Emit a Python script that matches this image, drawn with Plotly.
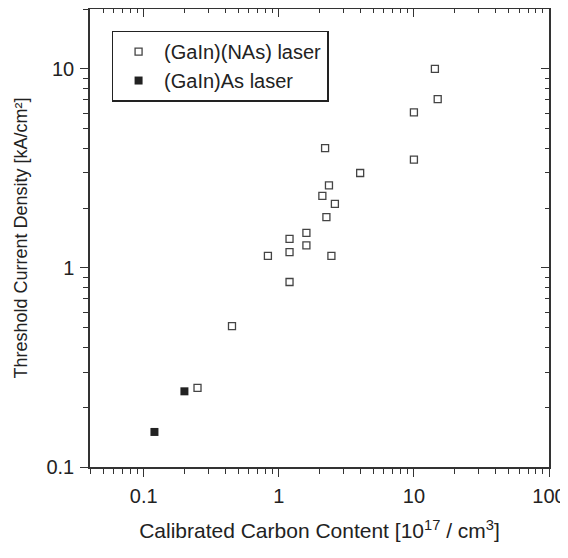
import plotly.graph_objects as go
import math

# (GaIn)(NAs) laser — open squares
gainnas_x = [14.3, 15.0, 10.0, 2.2, 10.0, 4.0, 2.35, 2.1, 2.6, 2.25, 1.6, 1.2, 1.6, 1.2, 0.83, 2.45, 1.2, 0.45, 0.25]
gainnas_y = [10.0, 7.05, 6.05, 4.0, 3.5, 3.0, 2.6, 2.3, 2.1, 1.8, 1.5, 1.4, 1.3, 1.2, 1.15, 1.15, 0.85, 0.51, 0.25]

# (GaIn)As laser — filled squares
gainas_x = [0.2, 0.12]
gainas_y = [0.24, 0.15]

x_ticks = [0.1, 1, 10, 100]
x_ticklabels = ["0.1", "1", "10", "100"]
y_ticks = [0.1, 1, 10]
y_ticklabels = ["0.1", "1", "10"]

FONT = "Liberation Sans, Arial, sans-serif"
AX = "#333333"

fig = go.Figure()
fig.add_trace(go.Scatter(
    x=gainnas_x, y=gainnas_y, mode="markers", name="(GaIn)(NAs) laser",
    marker=dict(symbol="square-open", size=7, color="#444444", line=dict(width=1.3, color="#444444")),
))
fig.add_trace(go.Scatter(
    x=gainas_x, y=gainas_y, mode="markers", name="(GaIn)As laser",
    marker=dict(symbol="square", size=8, color="#222222", line=dict(width=0)),
))

xr = [math.log10(0.04), math.log10(100)]
yr = [math.log10(0.1), math.log10(20)]

common = dict(type="log", showgrid=False, zeroline=False, showline=True, automargin=False,
              linecolor=AX, linewidth=1.5, tickcolor=AX, tickwidth=1.3)

# the page adds an 8px body margin, so the figure is sized/margined to compensate
fig.update_layout(
    width=560, height=550,
    margin=dict(l=82, r=19, t=1, b=91, autoexpand=False),
    paper_bgcolor="white", plot_bgcolor="white",
    font=dict(family=FONT, size=20, color="#222222"),
    showlegend=True,
    legend=dict(
        x=0.047, y=0.953, xanchor="left", yanchor="top",
        bordercolor="#222222", borderwidth=1.5, bgcolor="white",
        font=dict(size=20), itemwidth=41,
    ),
    xaxis=dict(
        **common, range=xr, tickvals=x_ticks, ticktext=x_ticklabels,
        ticks="outside", ticklen=8, ticklabelstandoff=2,
        minor=dict(ticks="outside", ticklen=5, tickcolor=AX, tickwidth=1.2, dtick="D1"),
        title=dict(text="Calibrated Carbon Content [10<sup>17</sup> / cm<sup>3</sup>]",
                   font=dict(size=21), standoff=18),
    ),
    yaxis=dict(
        **common, range=yr, tickvals=y_ticks, ticktext=y_ticklabels,
        ticks="outside", ticklen=8, ticklabelstandoff=2,
        minor=dict(ticks="outside", ticklen=5, tickcolor=AX, tickwidth=1.2, dtick="D1"),
        title=dict(text="Threshold Current Density [kA/cm²]", font=dict(size=18), standoff=14),
    ),
    xaxis2=dict(
        **common, range=xr, overlaying="x", side="top", matches="x",
        tickvals=x_ticks, ticks="inside", ticklen=8, showticklabels=False,
        minor=dict(ticks="inside", ticklen=4, tickcolor=AX, tickwidth=1.2, dtick="D1"),
    ),
    yaxis2=dict(
        **common, range=yr, overlaying="y", side="right", matches="y",
        tickvals=y_ticks, ticks="inside", ticklen=8, showticklabels=False,
        minor=dict(ticks="inside", ticklen=4, tickcolor=AX, tickwidth=1.2, dtick="D1"),
    ),
)
# invisible carrier so the mirrored axes are drawn
fig.add_trace(go.Scatter(x=[1], y=[1], xaxis="x2", yaxis="y2", mode="markers",
                         marker=dict(opacity=0), showlegend=False, hoverinfo="skip"))

fig.write_html("out.html")
